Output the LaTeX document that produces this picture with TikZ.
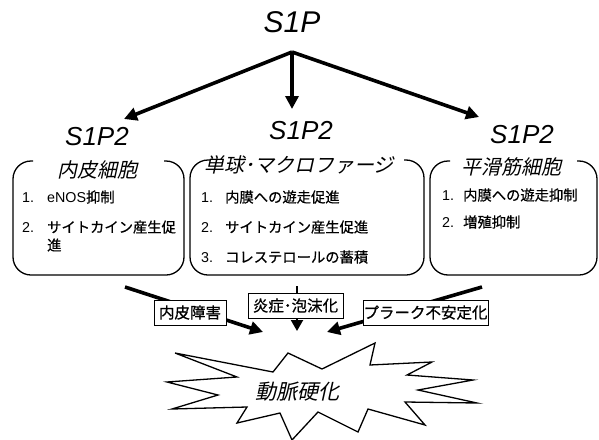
\documentclass[tikz,border=0pt]{standalone}
\usepackage{fontspec}
\setmainfont{Liberation Sans}
\newfontfamily\jp{Noto Sans CJK JP}[FakeBold=0.6]
\newfontfamily\jpit{Noto Sans CJK JP}[FakeSlant=0.22]
\usetikzlibrary{arrows.meta}
\begin{document}
\begin{tikzpicture}[x=1pt,y=-1pt,
  toplabel/.style={inner sep=0pt,font=\fontsize{30}{34}\selectfont\itshape},
  rlabel/.style={inner sep=0pt,font=\fontsize{26}{30}\selectfont\itshape},
  bigarrow/.style={line width=3.6pt,-{Triangle[length=13pt,width=13pt]}},
  midarrow/.style={line width=2pt,-{Triangle[length=11pt,width=12pt]}},
  cellbox/.style={line width=1.3pt,rounded corners=18pt},
  celltitle/.style={inner sep=0pt,font=\fontsize{20}{24}\selectfont\jpit},
  item/.style={inner sep=0pt,anchor=west,align=left,font=\fontsize{14.3}{18}\selectfont},
  tagbox/.style={draw,line width=1pt,fill=white,inner sep=0pt,minimum height=25pt,font=\fontsize{15.5}{18}\selectfont\jp},
  burst/.style={line width=1.3pt,line join=miter},
  bursttext/.style={inner sep=0pt,font=\fontsize{21}{24}\selectfont\jpit}
]
\useasboundingbox (0,0) rectangle (599,439);

% top
\node[toplabel] (s1p) at (292,22) {S1P};
\coordinate (apex) at (292,52);
\coordinate (tipL) at (124,119);
\coordinate (tipM) at (292,109);
\coordinate (tipR) at (479,117);
\draw[bigarrow] (apex) -- (tipL);
\draw[bigarrow] (apex) -- (tipM);
\draw[bigarrow] (apex) -- (tipR);

\node[rlabel] (r1) at (97,137) {S1P2};
\node[rlabel] (r2) at (301,131) {S1P2};
\node[rlabel] (r3) at (522,135) {S1P2};

% cell boxes
\draw[cellbox] (33,161) -- (13,161) -- (13,275) -- (184,275) -- (184,161) -- (164,161);
\draw[cellbox] (210,160) -- (190,160) -- (190,275) -- (424,275) -- (424,160) -- (404,160);
\draw[cellbox] (450,161) -- (430,161) -- (430,275) -- (597,275) -- (597,161) -- (577,161);

\node[celltitle] (t1) at (97,170) {内皮細胞};
\node[celltitle] (t2) at (299,165) {単球･マクロファージ};
\node[celltitle] (t3) at (511,167) {平滑筋細胞};

\node[item] (i11) at (22,197) {\makebox[25pt][l]{1.}eNOS{\jp 抑制}};
\node[item] (i12) at (22,236) {\makebox[25pt][l]{2.}{\jp サイトカイン産生促}\\\hspace*{25pt}{\jp 進}};

\node[item] (i21) at (201,197) {\makebox[24pt][l]{1.}{\jp 内膜への遊走促進}};
\node[item] (i22) at (201,227) {\makebox[24pt][l]{2.}{\jp サイトカイン産生促進}};
\node[item] (i23) at (201,257) {\makebox[24pt][l]{3.}{\jp コレステロールの蓄積}};

\node[item] (i31) at (442,195) {\makebox[21pt][l]{1.}{\jp 内膜への遊走抑制}};
\node[item] (i32) at (442,222) {\makebox[21pt][l]{2.}{\jp 増殖抑制}};

% lower arrows
\coordinate (aL1) at (125,287);
\coordinate (aL2) at (263,332);
\coordinate (aM1) at (297,286);
\coordinate (aM2) at (297,331);
\coordinate (aR1) at (482,287);
\coordinate (aR2) at (327,332);
\draw[bigarrow] (aL1) -- (aL2);
\draw[midarrow] (aM1) -- (aM2);
\draw[bigarrow] (aR1) -- (aR2);

\node[tagbox,minimum width=72pt] (g1) at (190,312.5) {内皮障害};
\node[tagbox,minimum width=95pt] (g2) at (295.5,305.5) {炎症･泡沫化};
\node[tagbox,minimum width=125pt] (g3) at (425.5,312.5) {プラーク不安定化};

% starburst
\draw[burst] (175,353) -- (273,372) -- (288,353) -- (322,369) -- (375,343) -- (370,365)
  -- (432,362) -- (407,375) -- (473,380) -- (418,390) -- (477,403) -- (405,402)
  -- (425,425) -- (368,409) -- (358,432) -- (318,412) -- (292,440) -- (280,413)
  -- (237,423) -- (247,407) -- (172,409) -- (218,395) -- (167,382) -- (237,377) -- cycle;
\node[bursttext] (ath) at (297,392) {動脈硬化};
\end{tikzpicture}
\end{document}
